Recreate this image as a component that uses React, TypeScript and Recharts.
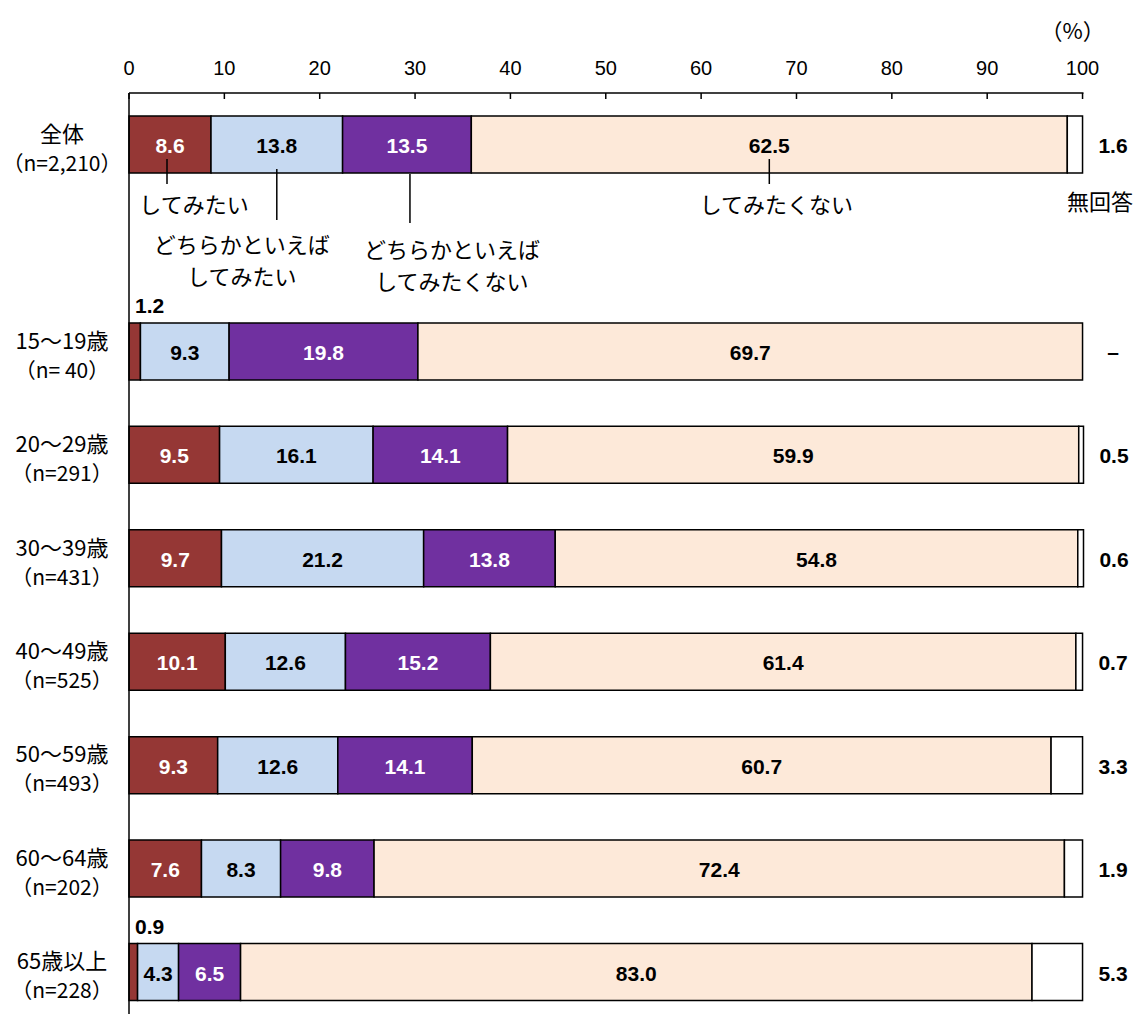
import React from 'react';
import { BarChart, Bar, XAxis, YAxis, LabelList } from 'recharts';

const categories = ['全体', '', '15～19歳', '20～29歳', '30～39歳', '40～49歳', '50～59歳', '60～64歳', '65歳以上'];
const sampleSizes = ['（n=2,210）', '', '（n= 40）', '（n=291）', '（n=431）', '（n=525）', '（n=493）', '（n=202）', '（n=228）'];
const wantTo = [8.6, null, 1.2, 9.5, 9.7, 10.1, 9.3, 7.6, 0.9];
const ratherWant = [13.8, null, 9.3, 16.1, 21.2, 12.6, 12.6, 8.3, 4.3];
const ratherNot = [13.5, null, 19.8, 14.1, 13.8, 15.2, 14.1, 9.8, 6.5];
const notWant = [62.5, null, 69.7, 59.9, 54.8, 61.4, 60.7, 72.4, 83.0];
const noAnswer = [1.6, null, 0, 0.5, 0.6, 0.7, 3.3, 1.9, 5.3];
const xTicks = [0, 10, 20, 30, 40, 50, 60, 70, 80, 90, 100];
const seriesNames = ['してみたい', 'どちらかといえばしてみたい', 'どちらかといえばしてみたくない', 'してみたくない', '無回答'];

const data = categories.map((cat, i) => ({
  cat,
  n: sampleSizes[i],
  s1: wantTo[i],
  s2: ratherWant[i],
  s3: ratherNot[i],
  s4: notWant[i],
  s5: noAnswer[i],
}));
const rowsWithData = data.filter((d) => d.s1 !== null);

const NUM_FONT = '"Liberation Sans", Arial, sans-serif';
const JP_FONT = '"Noto Sans CJK JP", "Noto Sans", sans-serif';

const XTick = (props: any) => {
  const { x, y, payload } = props;
  return (
    <g>
      <line x1={x} x2={x} y1={y} y2={y + 6} stroke="#000" strokeWidth={1.5} />
      <text x={x} y={y - 18} textAnchor="middle" fontSize={20} fontFamily={NUM_FONT} fill="#000">
        {payload.value}
      </text>
      {payload.value === 100 ? (
        <text x={x - 10} y={y - 64} textAnchor="middle" dominantBaseline="central" fontSize={22} fontFamily={JP_FONT} fill="#000">
          （%）
        </text>
      ) : null}
    </g>
  );
};

const YTick = (props: any) => {
  const { x, y, payload } = props;
  if (!payload.value) return null;
  const n = data.find((d) => d.cat === payload.value)?.n;
  return (
    <g>
      <text x={x - 67} y={y - 13} textAnchor="middle" dominantBaseline="central" fontSize={22} fontFamily={JP_FONT} fill="#000">
        {payload.value}
      </text>
      <text x={x - 67} y={y + 17} textAnchor="middle" dominantBaseline="central" fontSize={21} fontFamily={JP_FONT} fill="#000">
        {n}
      </text>
    </g>
  );
};

const jpText = (x: number, y: number, s: string, key: string) => (
  <text key={key} x={x} y={y} textAnchor="middle" dominantBaseline="central" fontSize={22} fontFamily={JP_FONT} fill="#000">
    {s}
  </text>
);

const bold = { fontSize: 21, fontWeight: 'bold' as const, fontFamily: NUM_FONT };

const makeLabel = (series: number) => (props: any) => {
  const vb = props.viewBox && props.viewBox.width !== undefined ? props.viewBox : props;
  const x = Number(vb.x);
  const y = Number(vb.y);
  const width = Number(vb.width);
  const height = Number(vb.height);
  const value = props.value;
  const index = props.index;
  if (value === null || value === undefined || isNaN(x) || isNaN(y)) return null;
  const row = props.payload && props.payload.cat !== undefined ? props.payload : rowsWithData[index];
  const isFirst = row ? row.cat === categories[0] : index === 0;
  const cx = x + width / 2;
  const cy = y + height / 2;
  const b = y + height;
  const valueText = Number(value).toFixed(1);
  const parts: any[] = [];

  if (series === 4) {
    if (value !== 0) {
      parts.push(
        <text key="v" x={x + width + 30.5} y={cy + 1} textAnchor="middle" dominantBaseline="central" fill="#000" {...bold}>
          {valueText}
        </text>
      );
    }
  } else if (value < 2) {
    parts.push(
      <text key="v" x={x + 6} y={y - 17} textAnchor="start" dominantBaseline="central" fill="#000" {...bold}>
        {valueText}
      </text>
    );
  } else {
    const fill = series === 0 || series === 2 ? '#ffffff' : '#000000';
    parts.push(
      <text key="v" x={cx} y={cy + 1} textAnchor="middle" dominantBaseline="central" fill={fill} {...bold}>
        {valueText}
      </text>
    );
  }

  // "no answer" absent (zero) -> dash drawn after the end of the last visible segment
  if (series === 3 && row && row.s5 === 0) {
    parts.push(
      <text key="dash" x={x + width + 30.5} y={cy} textAnchor="middle" dominantBaseline="central" fill="#000" {...bold}>
        –
      </text>
    );
  }

  if (isFirst) {
    if (series === 0) {
      parts.push(<line key="l" x1={cx - 3} x2={cx - 3} y1={b - 14} y2={b + 11} stroke="#000" strokeWidth={1.5} />);
      parts.push(jpText(cx + 24, b + 30, seriesNames[0], 't1'));
    } else if (series === 1) {
      parts.push(<line key="l" x1={cx} x2={cx} y1={b - 4} y2={b + 47} stroke="#000" strokeWidth={1.5} />);
      parts.push(jpText(cx - 35, b + 70, 'どちらかといえば', 't1'));
      parts.push(jpText(cx - 35, b + 102, 'してみたい', 't2'));
    } else if (series === 2) {
      parts.push(<line key="l" x1={cx + 3} x2={cx + 3} y1={b + 1} y2={b + 50} stroke="#000" strokeWidth={1.5} />);
      parts.push(jpText(cx + 45, b + 75, 'どちらかといえば', 't1'));
      parts.push(jpText(cx + 45, b + 107, 'してみたくない', 't2'));
    } else if (series === 3) {
      parts.push(<line key="l" x1={cx} x2={cx} y1={b - 14} y2={b + 11} stroke="#000" strokeWidth={1.5} />);
      parts.push(jpText(cx + 7, b + 30, seriesNames[3], 't1'));
    } else if (series === 4) {
      parts.push(jpText(cx + 25, b + 27, seriesNames[4], 't1'));
    }
  }
  return <g>{parts}</g>;
};

const colors = ['#953735', '#C6D9F1', '#7030A0', '#FDE9D9', '#FFFFFF'];
const keys = ['s1', 's2', 's3', 's4', 's5'];

export default function App() {
  return (
    <div
      style={{
        position: 'fixed',
        left: 0,
        top: 0,
        width: 1139,
        height: 1014,
        overflow: 'hidden',
        background: '#fff',
      }}
    >
      <BarChart
        width={1139}
        height={1040}
        data={data}
        layout="vertical"
        margin={{ top: 63, right: 55.5, bottom: 16, left: 0 }}
        barCategoryGap={0}
      >
        <XAxis
          type="number"
          orientation="top"
          domain={[0, 100]}
          ticks={xTicks}
          interval={0}
          height={30}
          tickSize={0}
          tickMargin={0}
          tickLine={false}
          axisLine={{ stroke: '#000', strokeWidth: 1.5 }}
          tick={<XTick />}
        />
        <YAxis
          type="category"
          dataKey="cat"
          width={129}
          tickSize={0}
          tickMargin={0}
          tickLine={false}
          interval={0}
          axisLine={{ stroke: '#000', strokeWidth: 1.5 }}
          tick={<YTick />}
        />
        {keys.map((k, i) => (
          <Bar
            key={k}
            dataKey={k}
            name={seriesNames[i]}
            stackId="a"
            fill={colors[i]}
            stroke="#000"
            strokeWidth={1.5}
            barSize={57}
            isAnimationActive={false}
          >
            <LabelList dataKey={k} content={makeLabel(i)} />
          </Bar>
        ))}
      </BarChart>
    </div>
  );
}
